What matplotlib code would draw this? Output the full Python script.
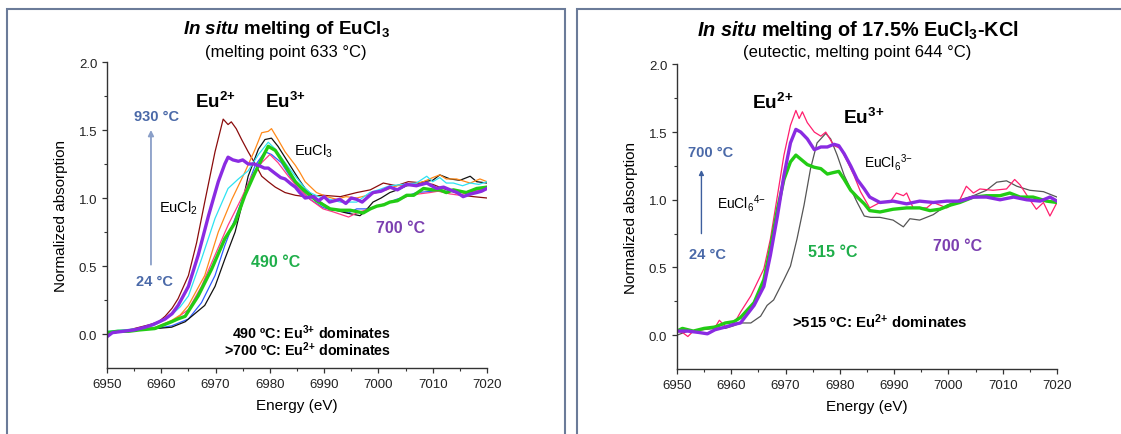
import matplotlib
matplotlib.use("Agg")
import matplotlib.pyplot as plt
from matplotlib.patches import Rectangle

plt.rcParams['font.family'] = ['Liberation Sans', 'DejaVu Sans']
plt.rcParams['mathtext.fontset'] = 'custom'
plt.rcParams['mathtext.rm'] = 'Liberation Sans'
plt.rcParams['mathtext.it'] = 'Liberation Sans:italic'
plt.rcParams['mathtext.bf'] = 'Liberation Sans:bold'
plt.rcParams['mathtext.bfit'] = 'Liberation Sans:italic:bold'

# ---------------- data: left panel (EuCl3) ----------------
L_maroon_E = [6950, 6952, 6954, 6956, 6958, 6959.5, 6960.7, 6962, 6963.1, 6965, 6966.5, 6968, 6969.9, 6971.4,
              6972.3, 6972.9, 6973.8, 6974.8, 6976, 6977.3, 6978.5, 6979.7, 6981, 6982.8, 6984.7, 6986.5, 6989.8,
              6993, 6996, 6998.5, 7000.9, 7003.3, 7005.5, 7008.3, 7010, 7011.9, 7013.5, 7015.6, 7017.5, 7020]
L_maroon_mu = [0.01, 0.02, 0.03, 0.05, 0.07, 0.09, 0.13, 0.19, 0.26, 0.43, 0.67, 0.97, 1.34, 1.58,
               1.54, 1.56, 1.51, 1.43, 1.34, 1.25, 1.16, 1.12, 1.08, 1.04, 1.02, 1.01, 1.02,
               1.01, 1.04, 1.06, 1.11, 1.09, 1.12, 1.11, 1.10, 1.07, 1.05, 1.02, 1.01, 1.00]

L_purple_E = [6950, 6951, 6953, 6955, 6957, 6958.5, 6960.7, 6962, 6963.1, 6965, 6966.8, 6968.7, 6970.5, 6971.7,
              6972.3, 6973.2, 6974.2, 6975, 6976, 6977, 6977.9, 6979, 6979.7, 6981, 6982, 6982.8, 6984, 6984.7,
              6985.5, 6986.5, 6988, 6989, 6990, 6991, 6992.9, 6994, 6995, 6996, 6997, 6999, 7000.5, 7002.1,
              7003.5, 7005.2, 7007, 7008.9, 7010.7, 7012, 7013.2, 7014.5, 7015.6, 7017, 7018.1, 7019, 7020]
L_purple_mu = [-0.02, 0.01, 0.02, 0.03, 0.05, 0.07, 0.11, 0.15, 0.21, 0.35, 0.58, 0.87, 1.12, 1.25,
               1.30, 1.28, 1.27, 1.28, 1.25, 1.25, 1.24, 1.22, 1.22, 1.18, 1.15, 1.14, 1.10, 1.08,
               1.04, 1.00, 1.01, 0.98, 1.01, 0.97, 0.99, 0.96, 1.00, 0.99, 0.97, 1.04, 1.05, 1.08,
               1.06, 1.10, 1.09, 1.11, 1.07, 1.08, 1.06, 1.04, 1.01, 1.03, 1.04, 1.05, 1.07]

L_cyan_E = [6950, 6953, 6956, 6958.5, 6960, 6961.9, 6963.5, 6965, 6967.4, 6969.9, 6972.3, 6974.2, 6976, 6977.9,
            6979.7, 6981, 6982.8, 6984.7, 6986.5, 6987.4, 6989, 6991.1, 6993, 6996, 6998.4, 7000, 7002.1, 7004.5,
            7007, 7008.9, 7010, 7011.3, 7012.5, 7013.8, 7015.5, 7016.9, 7018.5, 7020]
L_cyan_mu = [0.02, 0.03, 0.04, 0.06, 0.09, 0.14, 0.20, 0.28, 0.55, 0.85, 1.07, 1.14, 1.20, 1.32,
             1.41, 1.36, 1.26, 1.16, 1.07, 1.04, 1.01, 0.99, 0.97, 0.97, 1.04, 1.06, 1.09, 1.10,
             1.11, 1.16, 1.12, 1.15, 1.11, 1.11, 1.09, 1.11, 1.10, 1.12]

L_orange_E = [6950, 6953, 6956, 6959, 6961.9, 6963.5, 6965, 6968, 6970.5, 6973, 6975.4, 6977.3, 6978.5, 6979.7,
              6980.3, 6981.5, 6982.8, 6984.7, 6985.5, 6986.5, 6988.6, 6990.5, 6992.3, 6994, 6996, 6998, 6999.7,
              7001.5, 7003.3, 7006, 7008.3, 7010, 7011.3, 7012.5, 7014.4, 7016.9, 7018.7, 7020]
L_orange_mu = [0.01, 0.02, 0.03, 0.05, 0.10, 0.14, 0.21, 0.43, 0.75, 0.99, 1.19, 1.36, 1.48, 1.49,
               1.51, 1.43, 1.34, 1.24, 1.19, 1.12, 1.04, 1.01, 0.99, 1.01, 1.00, 1.02, 1.04,
               1.06, 1.09, 1.10, 1.12, 1.15, 1.17, 1.14, 1.14, 1.11, 1.14, 1.12]

L_green_E = [6950, 6952, 6954, 6956, 6958.8, 6960, 6961.9, 6963, 6964.4, 6966.8, 6969.3, 6971.7, 6973.6, 6975.4,
             6977.3, 6978.8, 6979.7, 6981, 6982.8, 6984.7, 6986.2, 6988.6, 6991.1, 6993, 6994.8, 6996, 6997.2,
             6998.5, 6999.7, 7001, 7002.1, 7003.5, 7005.2, 7006.5, 7008.3, 7010, 7011.3, 7012.5, 7013.8, 7015,
             7016.2, 7018.1, 7020]
L_green_mu = [0.01, 0.02, 0.02, 0.03, 0.04, 0.06, 0.09, 0.11, 0.13, 0.28, 0.48, 0.70, 0.82, 1.02,
              1.19, 1.31, 1.38, 1.35, 1.24, 1.12, 1.06, 0.98, 0.92, 0.91, 0.91, 0.90, 0.89,
              0.92, 0.94, 0.95, 0.97, 0.98, 1.02, 1.02, 1.07, 1.06, 1.06, 1.04, 1.06, 1.05,
              1.04, 1.07, 1.08]

L_blue_E = [6950, 6953, 6956, 6959, 6961.9, 6965, 6967.4, 6969.9, 6971.7, 6973.6, 6975.4, 6977.3, 6979.1, 6980.3,
            6982.1, 6984, 6986.5, 6987.4, 6989.8, 6991.5, 6993, 6994.5, 6996, 6998, 6999.7, 7001.5, 7003.3, 7005,
            7007, 7010.1, 7013.2, 7015, 7016.9, 7018.5, 7020]
L_blue_mu = [0.00, 0.02, 0.03, 0.04, 0.06, 0.11, 0.23, 0.43, 0.65, 0.85, 1.04, 1.24, 1.34, 1.32,
             1.26, 1.14, 1.03, 0.99, 0.93, 0.91, 0.91, 0.89, 0.92, 0.92, 0.94, 0.96, 0.99, 1.01,
             1.04, 1.05, 1.05, 1.04, 1.05, 1.06, 1.08]

L_black_E = [6950, 6953, 6956, 6959, 6961.9, 6964.4, 6966.2, 6968, 6969.9, 6971.7, 6973.6, 6974.8, 6976, 6977.9,
             6979.1, 6980.3, 6981.5, 6983.4, 6985.3, 6986.5, 6988.6, 6991.1, 6994.1, 6996.6, 6997.5, 6999, 7000.5,
             7002.1, 7003.5, 7005.2, 7007, 7008.3, 7010, 7011.3, 7013.2, 7015, 7016.9, 7018.1, 7020]
L_black_mu = [0.00, 0.02, 0.03, 0.04, 0.05, 0.09, 0.15, 0.21, 0.35, 0.55, 0.75, 0.94, 1.16, 1.36,
              1.43, 1.44, 1.38, 1.26, 1.14, 1.07, 0.99, 0.92, 0.89, 0.87, 0.90, 0.97, 1.00,
              1.04, 1.06, 1.09, 1.10, 1.12, 1.13, 1.17, 1.14, 1.13, 1.16, 1.12, 1.11]

L_pink_E = [6950, 6953, 6956, 6959, 6961.9, 6965, 6967.4, 6969.9, 6972.3, 6974.8, 6976.6, 6978.5, 6980, 6981.5,
            6983.4, 6985.3, 6987.4, 6989.8, 6991.5, 6993, 6994.5, 6996, 6999, 7002.1, 7004, 7005.8, 7007.5,
            7009.5, 7011, 7013.2, 7015, 7016.2, 7018, 7020]
L_pink_mu = [0.01, 0.02, 0.03, 0.05, 0.09, 0.18, 0.35, 0.58, 0.80, 1.00, 1.16, 1.26, 1.32, 1.26,
             1.16, 1.07, 0.99, 0.92, 0.90, 0.88, 0.86, 0.89, 0.93, 0.97, 0.99, 1.02, 1.03,
             1.04, 1.05, 1.03, 1.02, 1.04, 1.05, 1.08]

# ---------------- data: right panel (17.5% EuCl3-KCl) ----------------
R_pink_E = [6950, 6951, 6952, 6953, 6954.5, 6956, 6957.2, 6957.8, 6959, 6959.9, 6961, 6961.7, 6963.6, 6964.8,
            6966, 6967.2, 6968.5, 6969.7, 6970.9, 6971.9, 6972.5, 6973.1, 6974, 6975.3, 6976.5, 6977.4, 6978.9,
            6980.1, 6981.4, 6982.6, 6983.8, 6985.5, 6987.4, 6989.2, 6990.4, 6991.7, 6992.3, 6993.5, 6996,
            6997.2, 6999.7, 7002.1, 7003.3, 7004.6, 7005.8, 7008.2, 7010.7, 7012.2, 7013.2, 7015, 7016.2,
            7017.5, 7018.7, 7020]
R_pink_mu = [0.03, 0.02, -0.01, 0.03, 0.04, 0.05, 0.07, 0.11, 0.06, 0.07, 0.12, 0.17, 0.29, 0.39,
             0.49, 0.71, 1.03, 1.33, 1.55, 1.66, 1.60, 1.65, 1.57, 1.50, 1.47, 1.50, 1.40,
             1.38, 1.28, 1.18, 1.06, 0.94, 0.98, 0.98, 1.05, 1.03, 1.05, 0.94, 0.94,
             0.98, 0.94, 1.00, 1.10, 1.05, 1.08, 1.07, 1.08, 1.15, 1.11, 1.00, 0.93,
             0.98, 0.88, 0.98]

R_purple_E = [6950, 6952, 6954, 6955.6, 6957, 6958.9, 6960.5, 6961.7, 6964.2, 6966, 6967.2, 6968.5, 6969.7,
              6970.9, 6971.9, 6972.8, 6974, 6975.3, 6976.5, 6977.7, 6978.9, 6979.8, 6980.8, 6982, 6983.2,
              6984.5, 6985.5, 6987.4, 6989.8, 6992.3, 6994.7, 6997.2, 6999.7, 7002.1, 7004.6, 7007, 7009.5,
              7012, 7014.4, 7016.9, 7018.7, 7020]
R_purple_mu = [0.03, 0.03, 0.02, 0.01, 0.04, 0.06, 0.08, 0.09, 0.22, 0.36, 0.59, 0.88, 1.18,
               1.42, 1.52, 1.50, 1.45, 1.37, 1.39, 1.39, 1.41, 1.40, 1.34, 1.25, 1.15,
               1.08, 1.02, 0.98, 0.99, 0.97, 0.99, 0.98, 0.99, 0.99, 1.02, 1.02, 1.00,
               1.02, 1.00, 0.99, 1.02, 0.99]

R_green_E = [6950, 6951, 6953, 6955, 6957, 6958.9, 6960.5, 6961.7, 6964.2, 6966, 6967.2, 6968.5, 6969.7,
             6970.9, 6971.9, 6972.8, 6974, 6975.3, 6976.5, 6977.7, 6978.7, 6979.8, 6980.8, 6982, 6983.2,
             6984.5, 6985.5, 6987.4, 6989.8, 6992.3, 6994.7, 6996.6, 6998.4, 7000.3, 7002.1, 7004.6, 7007,
             7009.5, 7011.3, 7013.2, 7015.6, 7018.1, 7020]
R_green_mu = [0.03, 0.05, 0.03, 0.05, 0.06, 0.09, 0.10, 0.13, 0.24, 0.41, 0.64, 0.93, 1.15,
              1.28, 1.33, 1.30, 1.26, 1.24, 1.23, 1.19, 1.20, 1.21, 1.15, 1.07, 1.02,
              0.97, 0.92, 0.91, 0.93, 0.94, 0.94, 0.92, 0.93, 0.96, 0.98, 1.02, 1.03,
              1.03, 1.05, 1.02, 1.02, 0.99, 0.98]

R_gray_E = [6950, 6952, 6954.7, 6957, 6958.9, 6960.5, 6961.7, 6963.6, 6965.4, 6966.6, 6967.8, 6969.7, 6970.9,
            6972.1, 6973.4, 6974.6, 6975.8, 6977.4, 6978.3, 6979.5, 6980.8, 6982, 6983.2, 6984.5, 6985.7,
            6987.4, 6989.8, 6991.7, 6992.9, 6994.7, 6997.2, 6999.7, 7002.1, 7004.6, 7007, 7008.9, 7010.7,
            7012.6, 7015, 7017.5, 7020]
R_gray_mu = [0.00, 0.03, 0.04, 0.05, 0.05, 0.07, 0.09, 0.09, 0.14, 0.22, 0.26, 0.41, 0.51,
             0.71, 0.96, 1.23, 1.42, 1.49, 1.45, 1.33, 1.18, 1.08, 0.98, 0.88, 0.87,
             0.87, 0.85, 0.80, 0.86, 0.85, 0.89, 0.96, 1.00, 1.03, 1.07, 1.13, 1.14,
             1.10, 1.07, 1.06, 1.02]

x_ticks = [6950, 6960, 6970, 6980, 6990, 7000, 7010, 7020]
y_ticks = [0.0, 0.5, 1.0, 1.5, 2.0]

# ---------------- figure ----------------
W, H = 1121, 435
fig = plt.figure(figsize=(W / 100, H / 100), dpi=100)

border = '#6b7b99'
fig.patches.append(Rectangle((7 / W, -0.1), (565 - 7) / W, 1.1 - 10 / H, transform=fig.transFigure,
                             fill=False, edgecolor=border, linewidth=1.5))
fig.patches.append(Rectangle((577 / W, -0.1), 0.5, 1.1 - 10 / H, transform=fig.transFigure,
                             fill=False, edgecolor=border, linewidth=1.5))

axL = fig.add_axes([107 / W, (H - 369) / H, (487 - 107) / W, (369 - 63) / H])
axR = fig.add_axes([677 / W, (H - 370) / H, (1057 - 677) / W, (370 - 65.4) / H])

thin, thick = 0.9, 2.4

axL.plot(L_maroon_E, L_maroon_mu, color='#8b0c0c', lw=thin)
axL.plot(L_blue_E, L_blue_mu, color='#2f5cff', lw=thin)
axL.plot(L_black_E, L_black_mu, color='#111111', lw=thin)
axL.plot(L_pink_E, L_pink_mu, color='#ff3a86', lw=thin)
axL.plot(L_orange_E, L_orange_mu, color='#ff8a1a', lw=thin)
axL.plot(L_cyan_E, L_cyan_mu, color='#2ee3f2', lw=thin)
axL.plot(L_green_E, L_green_mu, color='#22cc14', lw=thick)
axL.plot(L_purple_E, L_purple_mu, color='#8a2be2', lw=thick)

axR.plot(R_gray_E, R_gray_mu, color='#555555', lw=thin)
axR.plot(R_pink_E, R_pink_mu, color='#ff1f6e', lw=thin)
axR.plot(R_green_E, R_green_mu, color='#22cc14', lw=thick)
axR.plot(R_purple_E, R_purple_mu, color='#8a2be2', lw=thick)

for ax in (axL, axR):
    ax.set_xlim(6950, 7020)
    ax.set_ylim(-0.25, 2.0)
    ax.set_xticks(x_ticks)
    ax.set_yticks(y_ticks)
    ax.set_xticks(range(6955, 7020, 10), minor=True)
    ax.set_yticks([0.25, 0.75, 1.25, 1.75], minor=True)
    ax.set_yticklabels([f"{v:.1f}" for v in y_ticks])
    for s in ('top', 'right'):
        ax.spines[s].set_visible(False)
    for s in ('left', 'bottom'):
        ax.spines[s].set_color('#333333')
        ax.spines[s].set_linewidth(1.0)
    ax.tick_params(which='major', direction='out', length=3.5, width=0.9, labelsize=9.5,
                   color='#333333', labelcolor='#222222')
    ax.tick_params(which='minor', direction='out', length=2, width=0.8, color='#333333')
    ax.set_xlabel('Energy (eV)', fontsize=11, labelpad=6)
    ax.set_ylabel('Normalized absorption', fontsize=11, labelpad=8)
    ax.patch.set_alpha(0)

blue_lab = '#4a69a8'
green_lab = '#1fae4a'
purple_lab = '#7b3fb0'

EU2 = r'Eu$^{\mathbf{2{+}}}$'
EU3 = r'Eu$^{\mathbf{3{+}}}$'

# left annotations
axL.text(6969.9, 1.71, EU2, fontsize=13.5, fontweight='bold', ha='center', va='center')
axL.text(6982.8, 1.71, EU3, fontsize=13.5, fontweight='bold', ha='center', va='center')
axL.text(6959.1, 1.605, '930 °C', fontsize=10.5, fontweight='bold', color=blue_lab, ha='center', va='center')
axL.text(6958.7, 0.39, '24 °C', fontsize=10.5, fontweight='bold', color=blue_lab, ha='center', va='center')
axL.annotate('', xy=(6958.1, 1.50), xytext=(6958.1, 0.51),
             arrowprops=dict(arrowstyle='-|>', color='#8a9fc8', lw=1.3, mutation_scale=8, shrinkA=0, shrinkB=0))
axL.text(6963.1, 0.93, r'EuCl$_2$', fontsize=10.5, ha='center', va='center')
axL.text(6988.1, 1.35, r'EuCl$_3$', fontsize=10.5, ha='center', va='center')
axL.text(6981.1, 0.535, '490 °C', fontsize=11.5, fontweight='bold', color=green_lab, ha='center', va='center')
axL.text(7004.1, 0.78, '700 °C', fontsize=11.5, fontweight='bold', color=purple_lab, ha='center', va='center')
axL.text(7002.3, 0.02, '490 ºC: ' + EU3 + ' dominates', fontsize=10.3, fontweight='bold',
         ha='right', va='center')
axL.text(7002.3, -0.105, '>700 ºC: ' + EU2 + ' dominates', fontsize=10.3, fontweight='bold',
         ha='right', va='center')

# right annotations
axR.text(6967.7, 1.72, EU2, fontsize=13.8, fontweight='bold', ha='center', va='center')
axR.text(6984.3, 1.61, EU3, fontsize=13.8, fontweight='bold', ha='center', va='center')
axR.text(6956.2, 1.35, '700 °C', fontsize=10.5, fontweight='bold', color=blue_lab, ha='center', va='center')
axR.text(6955.6, 0.60, '24 °C', fontsize=10.5, fontweight='bold', color=blue_lab, ha='center', va='center')
axR.annotate('', xy=(6954.5, 1.22), xytext=(6954.5, 0.75),
             arrowprops=dict(arrowstyle='-|>', color='#3d5f9e', lw=1.0, mutation_scale=7, shrinkA=0, shrinkB=0))
axR.text(6961.9, 0.98, r'EuCl$_6$$^{4{-}}$', fontsize=10, ha='center', va='center')
axR.text(6988.9, 1.28, r'EuCl$_6$$^{3{-}}$', fontsize=10, ha='center', va='center')
axR.text(6978.7, 0.62, '515 °C', fontsize=11.5, fontweight='bold', color=green_lab, ha='center', va='center')
axR.text(7001.7, 0.66, '700 °C', fontsize=11.5, fontweight='bold', color=purple_lab, ha='center', va='center')
axR.text(6971.2, 0.106, '>515 ºC: ' + EU2 + ' dominates', fontsize=10.8, fontweight='bold',
         ha='left', va='center')

# titles
fig.text(286 / W, 1 - 30 / H, r'$\mathbfit{In\ situ}$ melting of EuCl$_\mathbf{3}$', fontsize=13.5,
         fontweight='bold', ha='center', va='center')
fig.text(286 / W, 1 - 53 / H, '(melting point 633 °C)', fontsize=12, ha='center', va='center')
fig.text(858 / W, 1 - 30 / H, r'$\mathbfit{In\ situ}$ melting of 17.5% EuCl$_\mathbf{3}$-KCl', fontsize=14.3,
         fontweight='bold', ha='center', va='center')
fig.text(857 / W, 1 - 53 / H, '(eutectic, melting point 644 °C)', fontsize=12, ha='center', va='center')

fig.savefig('out.png', dpi=100)
